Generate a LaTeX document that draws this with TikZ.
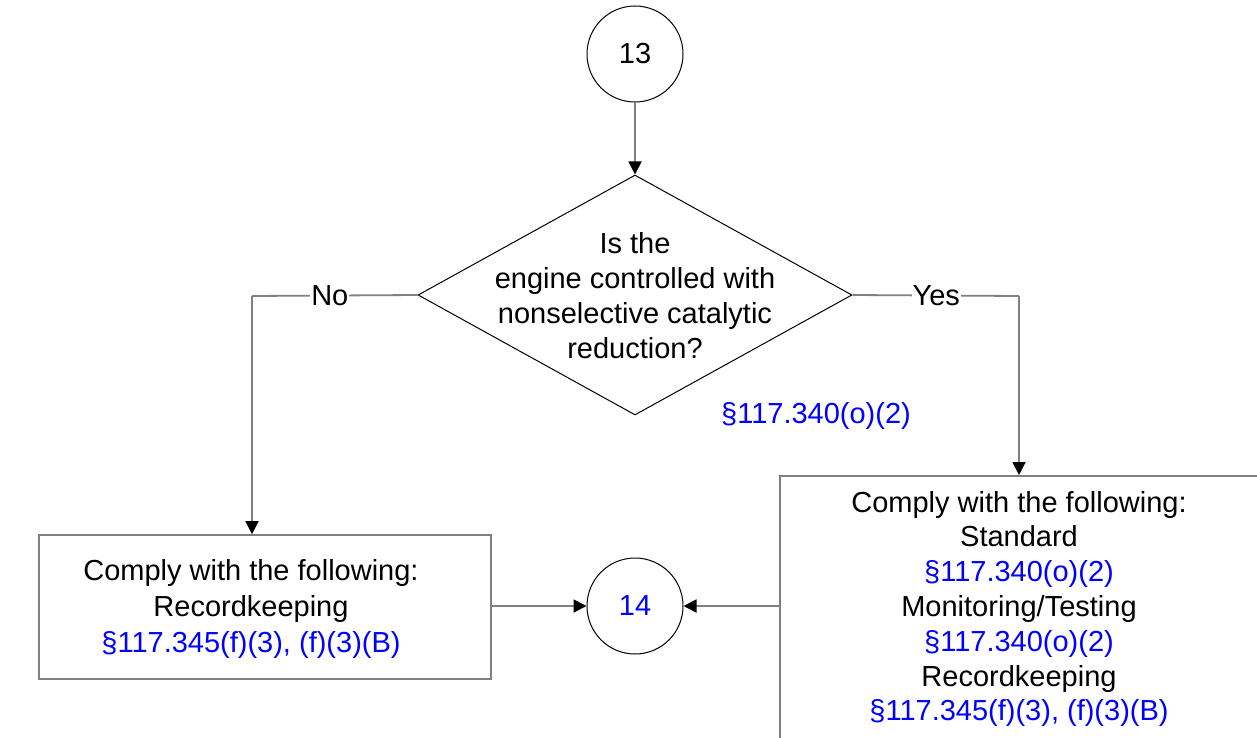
\documentclass[tikz,border=0pt]{standalone}
\usepackage{fontspec}
\setmainfont{Liberation Sans}
\usetikzlibrary{arrows.meta,shapes.geometric}
\definecolor{linegray}{RGB}{128,128,128}
\definecolor{refblue}{RGB}{0,0,255}
\tikzset{
  txt/.style={font={\fontsize{29}{35}\selectfont}, align=center, inner sep=0pt},
  circ/.style={circle, draw=black, line width=1pt, minimum size=96pt, inner sep=0pt, font={\fontsize{29}{35}\selectfont}},
  boxst/.style={draw=linegray, line width=1.6pt, inner sep=0pt},
  conn/.style={draw=linegray, line width=1.8pt, -{Triangle[length=13pt,width=13pt,color=black]}},
  plainconn/.style={draw=linegray, line width=1.8pt},
  lab/.style={fill=white, inner sep=1pt, font={\fontsize{29}{35}\selectfont}},
  ref/.style={text=refblue}
}
\begin{document}
\begin{tikzpicture}[x=1pt,y=-1pt]
\clip (0,0) rectangle (1257,738);
\fill[white] (0,0) rectangle (1257,738);
% nodes
\node[circ] (c13) at (635,54) {13};
\node[diamond, draw=black, line width=1pt, minimum width=434pt, minimum height=240pt, inner sep=0pt] (dia) at (635,295) {};
\node[txt] (diatext) at (635,296) {Is the\\engine controlled with\\nonselective catalytic\\reduction?};
\node[txt, ref] (dref) at (816,416) {§117.340(o)(2)};
\node[boxst, minimum width=452pt, minimum height=144pt] (lbox) at (265,607) {};
\node[txt, font={\fontsize{29}{36}\selectfont}] (ltext) at (251,609) {Comply with the following:\\Recordkeeping\\\textcolor{refblue}{§117.345(f)(3), (f)(3)(B)}};
\node[boxst, anchor=north west, minimum width=600pt, minimum height=400pt] (rbox) at (779,475) {};
\node[txt, font={\fontsize{29}{34.8}\selectfont}] (rtext) at (1019,609) {Comply with the following:\\Standard\\\textcolor{refblue}{§117.340(o)(2)}\\Monitoring/Testing\\\textcolor{refblue}{§117.340(o)(2)}\\Recordkeeping\\\textcolor{refblue}{§117.345(f)(3), (f)(3)(B)}};
\node[circ, text=refblue] (c14) at (635,606) {14};
\coordinate (nl) at (252,296);
\coordinate (yr) at (1019,296);
% connectors
\draw[conn] (c13) -- (dia.north);
\draw[plainconn] (dia.west) -- node[lab, pos=0.53] {No} (nl);
\draw[conn] (nl) -- (nl |- lbox.north);
\draw[plainconn] (dia.east) -- node[lab, pos=0.503] {Yes} (yr);
\draw[conn] (yr) -- (yr |- rbox.north);
\draw[conn] (lbox.east |- c14) -- (c14.west);
\draw[conn] (rbox.west |- c14) -- (c14.east);
\end{tikzpicture}
\end{document}
